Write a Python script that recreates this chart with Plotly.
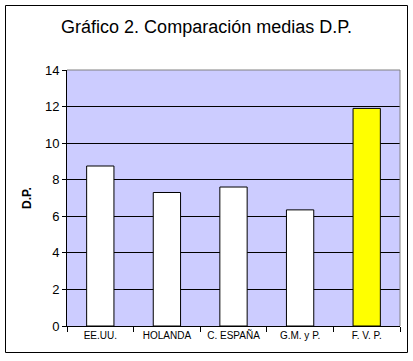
import plotly.graph_objects as go

categories = ["EE.UU.", "HOLANDA", "C. ESPAÑA", "G.M. y P.", "F. V. P."]
values = [8.75, 7.3, 7.6, 6.35, 11.9]
bar_colors = ["#FFFFFF", "#FFFFFF", "#FFFFFF", "#FFFFFF", "#FFFF00"]
y_ticks = [0, 2, 4, 6, 8, 10, 12, 14]

W, H = 413, 361
L, R, T, B = 67, 13, 70, 35
pw, ph = W - L - R, H - T - B

def px(x):
    return (x - L) / pw

def py(y):
    return (H - B - y) / ph

fig = go.Figure(go.Bar(
    x=categories, y=values,
    marker=dict(color=bar_colors, line=dict(color="black", width=1)),
    width=0.41,
))

fig.update_layout(
    width=W, height=H,
    margin=dict(l=L, r=R, t=T, b=B),
    paper_bgcolor="white",
    plot_bgcolor="#CCCCFF",
    showlegend=False,
    font=dict(family="Liberation Sans, Arial", color="black"),
    title=dict(text="Gráfico 2. Comparación medias D.P.",
               x=0.5, xanchor="center", y=1 - 27 / H, yanchor="middle",
               font=dict(size=18, color="black")),
    xaxis=dict(showgrid=False, ticks="outside", tickson="boundaries",
               ticklen=5, tickcolor="black", showline=True, linecolor="black",
               linewidth=1, tickfont=dict(size=10)),
    yaxis=dict(range=[0, 14], tickvals=y_ticks, showgrid=True,
               gridcolor="black", gridwidth=1, ticks="outside", ticklen=4,
               tickcolor="black", showline=True, linecolor="black",
               linewidth=1, zeroline=False, tickfont=dict(size=13),
               title=dict(text="<b>D.P.</b>", font=dict(size=12), standoff=10)),
    shapes=[
        dict(type="line", xref="paper", yref="paper", x0=0, x1=1, y0=1, y1=1,
             line=dict(color="#808080", width=1)),
        dict(type="line", xref="paper", yref="paper", x0=1, x1=1, y0=0, y1=1,
             line=dict(color="#808080", width=1)),
        dict(type="rect", xref="paper", yref="paper",
             x0=px(5.5), x1=px(407.5), y0=py(352.5), y1=py(5.5),
             line=dict(color="black", width=1)),
    ],
)

fig.write_html("out.html", config={"displayModeBar": False},
               post_script="document.body.style.margin='0';")
